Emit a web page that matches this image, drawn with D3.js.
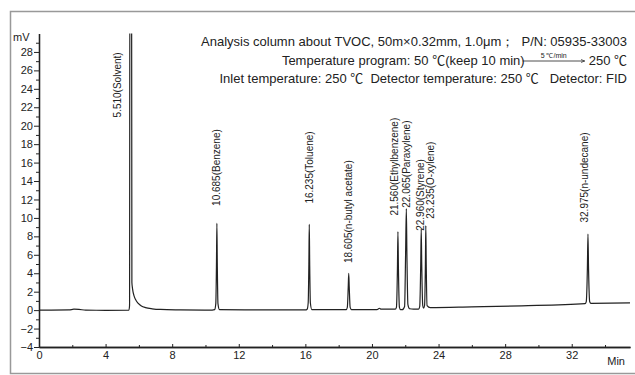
<!DOCTYPE html>
<html>
<head>
<meta charset="utf-8">
<script src="https://cdn.jsdelivr.net/npm/d3@7"></script>
<style>
  body { margin: 0; background: #fff; }
  svg { display: block; font-family: "Liberation Sans", Arial, sans-serif; }
  .axis text { font-size: 11px; fill: #222; }
  .title { font-size: 13px; fill: #222; white-space: pre; }
  .deg { font-family: "Noto Sans CJK SC", sans-serif; }
  .peak { font-size: 10px; fill: #222; }
</style>
</head>
<body>
<script>
// chromatogram trace: [time (min), signal (mV)]
var trace = [
    [0, 0], [1.8, 0.02], [2.1, 0.1], [2.4, 0.08], [2.8, 0], [4, -0.02], [5.4, 0],
    // solvent
    [5.44, 0.5], [5.46, 40], [5.56, 40], [5.58, 3], [5.62, 2.3], [5.7, 1.6], [5.8, 1.15],
    [5.95, 0.75], [6.15, 0.45], [6.4, 0.27], [6.8, 0.14], [7.3, 0.07], [8.5, 0.03], [10.4, 0],
    // benzene
    [10.55, 0.05], [10.62, 0.7], [10.66, 5], [10.685, 9.4], [10.71, 5], [10.75, 0.7], [10.84, 0.05],
    [13, 0.02], [16.05, 0.02],
    // toluene
    [16.11, 0.1], [16.17, 0.8], [16.21, 5], [16.235, 9.3], [16.26, 5], [16.3, 0.8], [16.39, 0.05],
    [18.45, 0.05],
    // n-butyl acetate
    [18.52, 0.3], [18.575, 2.5], [18.605, 4.0], [18.635, 2.5], [18.69, 0.3], [18.78, 0.05],
    [20.3, 0.05], [20.45, 0.2], [20.55, 0.1], [21.4, 0.1],
    // ethylbenzene
    [21.47, 0.3], [21.53, 4.5], [21.56, 8.5], [21.59, 4.5], [21.65, 0.3], [21.72, 0.05], [21.82, 0.05],
    // paraxylene
    [21.96, 0.4], [22.02, 6], [22.065, 11.0], [22.1, 6], [22.16, 0.6], [22.26, 0.15], [22.5, 0.1], [22.8, 0.1],
    // styrene
    [22.87, 0.4], [22.93, 5], [22.96, 8.8], [22.99, 5], [23.05, 0.5], [23.1, 0.2],
    // o-xylene
    [23.16, 0.5], [23.21, 5], [23.235, 9.15], [23.26, 5], [23.31, 0.5], [23.5, 0.28],
    [26, 0.36], [29, 0.47], [32.8, 0.7],
    // n-undecane
    [32.87, 0.9], [32.94, 4.5], [32.975, 8.25], [33.01, 4.5], [33.08, 0.9], [33.15, 0.74], [35.5, 0.78]
];

// peak annotations
var peakNames = ['5.510(Solvent)', '10.685(Benzene)', '16.235(Toluene)', '18.605(n-butyl acetate)',
    '21.560(Ethylbenzene)', '22.065(Paraxylene)', '22.960(Styrene)', '23.235(O-xylene)', '32.975(n-undecane)'];
var labelTimes = [4.7, 10.685, 16.235, 18.605, 21.38, 22.09, 22.89, 23.53, 32.79];
var labelStarts = [20.9, 11.3, 11.55, 5.1, 10.25, 11.1, 8.6, 9.9, 9.5];   // mV where each label begins

var xMajor = [0, 4, 8, 12, 16, 20, 24, 28, 32];
var xMinor = [2, 6, 10, 14, 18, 22, 26, 30, 34];
var yMajor = [-4, -2, 0, 2, 4, 6, 8, 10, 12, 14, 16, 18, 20, 22, 24, 26, 28];
var yMinor = [-3, -1, 1, 3, 5, 7, 9, 11, 13, 15, 17, 19, 21, 23, 25, 27, 29];

var width = 635, height = 375;

var svg = d3.select('body').append('svg')
    .attr('width', width)
    .attr('height', height);

// outer frame
svg.append('rect')
    .attr('x', 10.5).attr('y', 11.5)
    .attr('width', 640).attr('height', 362)
    .attr('fill', 'none')
    .attr('stroke', '#999')
    .attr('stroke-width', 1.5);

var x = d3.scaleLinear().domain([0, 35.5]).range([39, 630]);
var y = d3.scaleLinear().domain([-4, 30]).range([347, 33.5]);

// axes
svg.append('g').attr('class', 'axis')
    .attr('transform', 'translate(' + x(0) + ',0)')
    .call(d3.axisLeft(y).tickValues(yMajor).tickSize(5).tickPadding(1).tickSizeOuter(0));
svg.append('g').attr('class', 'axis')
    .attr('transform', 'translate(' + x(0) + ',0)')
    .call(d3.axisLeft(y).tickValues(yMinor).tickSize(3).tickFormat('').tickSizeOuter(0));

svg.append('g').attr('class', 'axis')
    .attr('transform', 'translate(0,' + y(-4) + ')')
    .call(d3.axisBottom(x).tickValues(xMajor).tickSizeInner(-3).tickSizeOuter(0).tickPadding(4));
svg.append('g').attr('class', 'axis')
    .attr('transform', 'translate(0,' + y(-4) + ')')
    .call(d3.axisBottom(x).tickValues(xMinor).tickSizeInner(-2).tickSizeOuter(0).tickFormat(''));

svg.selectAll('.axis .domain').attr('stroke', '#222').attr('stroke-width', 1.3);
svg.selectAll('.axis .tick line').attr('stroke', '#222');

svg.append('text')
    .attr('x', 13).attr('y', 41)
    .style('font-size', '11px').attr('fill', '#222')
    .text('mV');
svg.append('text')
    .attr('x', 625).attr('y', 365)
    .attr('text-anchor', 'end')
    .style('font-size', '11px').attr('fill', '#222')
    .text('Min');

// trace, clipped to the plot area
svg.append('clipPath').attr('id', 'plot')
    .append('rect')
    .attr('x', x(0)).attr('y', y(30))
    .attr('width', x(35.5) - x(0)).attr('height', y(-4) - y(30));

var line = d3.line()
    .x(d => x(d[0]))
    .y(d => y(d[1]))
    .curve(d3.curveMonotoneX);

svg.append('path')
    .datum(trace)
    .attr('clip-path', 'url(#plot)')
    .attr('d', line)
    .attr('fill', 'none')
    .attr('stroke', '#222')
    .attr('stroke-width', 1.2);

// peak labels, reading upward from just above each peak
svg.append('g').selectAll('text')
    .data(peakNames).enter()
    .append('text')
    .attr('class', 'peak')
    .attr('text-anchor', 'start')
    .attr('dy', '0.35em')
    .attr('transform', (d, i) => 'translate(' + x(labelTimes[i]) + ',' + y(labelStarts[i]) + ') rotate(-90)')
    .text(d => d);

// conditions block, top right; ℃ set in a full-width face like the original
function titleLine(sel, parts) {
    parts.forEach(function(p) {
        sel.append('tspan').attr('class', p === '℃' ? 'deg' : null).text(p);
    });
    return sel;
}

svg.append('text').attr('class', 'title')
    .attr('x', 627).attr('y', 46)
    .attr('text-anchor', 'end')
    .text('Analysis column about TVOC, 50m×0.32mm, 1.0μm；  P/N: 05935-33003');

var endTemp = titleLine(svg.append('text').attr('class', 'title')
    .attr('x', 627).attr('y', 64.5)
    .attr('text-anchor', 'end'), ['250 ', '℃']);
var arrowEnd = 627 - endTemp.node().getComputedTextLength() - 4;
var arrowStart = arrowEnd - 62;

svg.append('defs').append('marker')
    .attr('id', 'head')
    .attr('viewBox', '0 0 6 6')
    .attr('refX', 6).attr('refY', 3)
    .attr('markerWidth', 5).attr('markerHeight', 5)
    .attr('orient', 'auto')
    .append('path')
    .attr('d', 'M0,0.5L6,3L0,5.5')
    .attr('fill', 'none')
    .attr('stroke', '#222');

svg.append('line')
    .attr('x1', arrowStart).attr('x2', arrowEnd)
    .attr('y1', 61).attr('y2', 61)
    .attr('stroke', '#222')
    .attr('stroke-width', 0.8)
    .attr('marker-end', 'url(#head)');
svg.append('text')
    .attr('x', (arrowStart + arrowEnd) / 2).attr('y', 58)
    .attr('text-anchor', 'middle')
    .style('font-size', '7px').attr('fill', '#222')
    .text('5 ℃/min');
titleLine(svg.append('text').attr('class', 'title')
    .attr('x', arrowStart + 2).attr('y', 64.5)
    .attr('text-anchor', 'end'), ['Temperature program: 50 ', '℃', '(keep 10 min)']);

titleLine(svg.append('text').attr('class', 'title')
    .attr('x', 627).attr('y', 83)
    .attr('text-anchor', 'end'),
    ['Inlet temperature: 250 ', '℃', '  Detector temperature: 250 ', '℃', '   Detector: FID']);
</script>
</body>
</html>
